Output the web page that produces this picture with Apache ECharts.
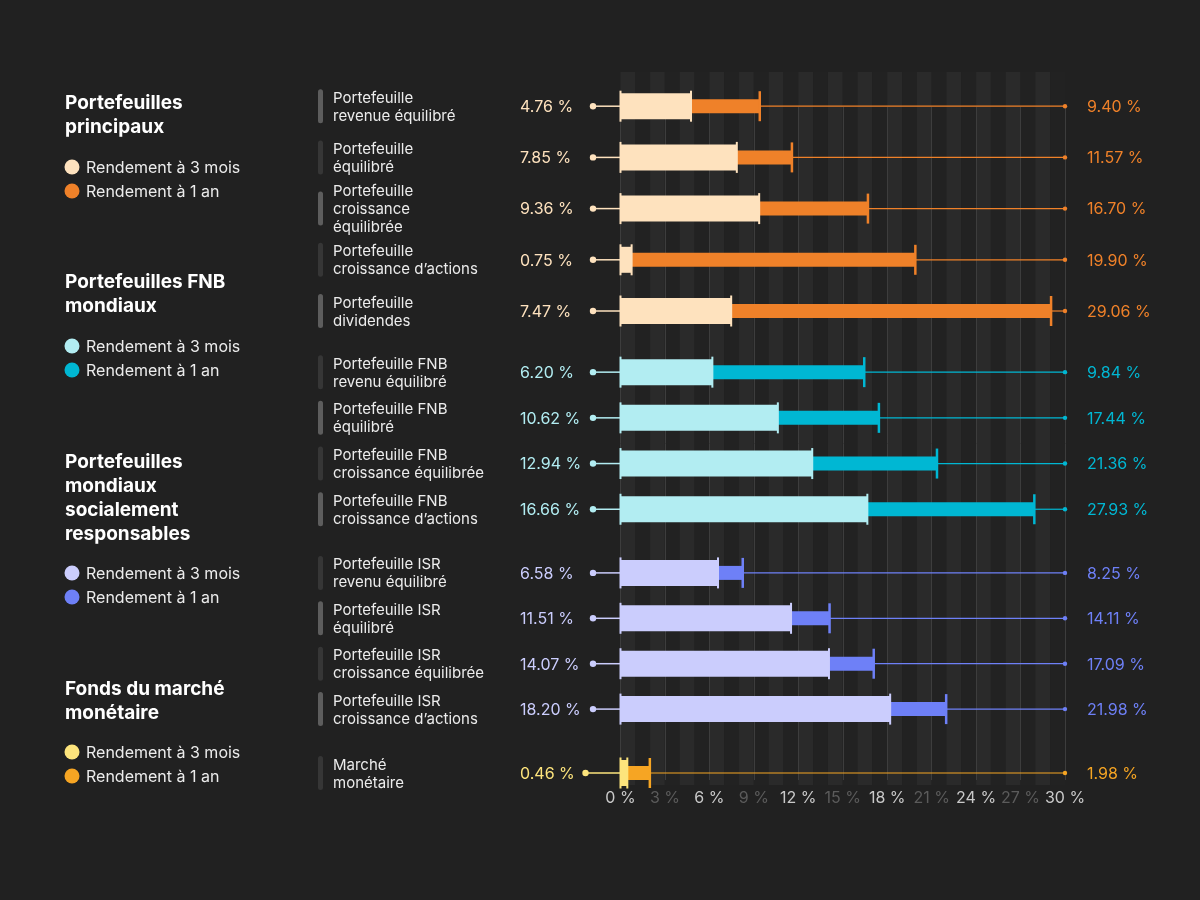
<!DOCTYPE html>
<html><head><meta charset="utf-8">
<script src="https://cdn.jsdelivr.net/npm/echarts@6/dist/echarts.min.js"></script>
<style>html,body{margin:0;padding:0;background:#212121}#c{width:1200px;height:900px}</style>
</head><body><div id="c"></div><script>
// ---------- data ----------
const rowLabels = [
  'Portefeuille\nrevenue équilibré',
  'Portefeuille\néquilibré',
  'Portefeuille\ncroissance\néquilibrée',
  'Portefeuille\ncroissance d’actions',
  'Portefeuille\ndividendes',
  'Portefeuille FNB\nrevenu équilibré',
  'Portefeuille FNB\néquilibré',
  'Portefeuille FNB\ncroissance équilibrée',
  'Portefeuille FNB\ncroissance d’actions',
  'Portefeuille ISR\nrevenu équilibré',
  'Portefeuille ISR\néquilibré',
  'Portefeuille ISR\ncroissance équilibrée',
  'Portefeuille ISR\ncroissance d’actions',
  'Marché\nmonétaire'
];
const rowGroup = [0,0,0,0,0,1,1,1,1,2,2,2,2,3];
const threeMonth = [4.76, 7.85, 9.36, 0.75, 7.47, 6.20, 10.62, 12.94, 16.66, 6.58, 11.51, 14.07, 18.20, 0.46];
const oneYear    = [9.40, 11.57, 16.70, 19.90, 29.06, 9.84, 17.44, 21.36, 27.93, 8.25, 14.11, 17.09, 21.98, 1.98];
// bar end as drawn in the picture (row 6 bar is drawn longer than its printed value)
const oneYearBar = [9.40, 11.57, 16.70, 19.90, 29.06, 16.45, 17.44, 21.36, 27.93, 8.25, 14.11, 17.09, 21.98, 1.98];
const groupTitles = ['Portefeuilles\nprincipaux', 'Portefeuilles FNB\nmondiaux', 'Portefeuilles\nmondiaux\nsocialement\nresponsables', 'Fonds du marché\nmonétaire'];
const legendLabels = ['Rendement à 3 mois', 'Rendement à 1 an'];
const color3m = ['#FEE2BE', '#B2EDF2', '#CBCDFD', '#FDE47C'];
const color1y = ['#EF8129', '#00B7D3', '#6E80F7', '#F6A523'];
const axisMin = 0, axisMax = 30, tickStep = 3;

// ---------- layout ----------
const FONT = 'Inter, "Noto Sans", sans-serif';
const gridLeft = 620.5, gridWidth = 444.5;
const groupGrids = [
  {top: 80.6, height: 256},
  {top: 349.3, height: 182.8},
  {top: 550.2, height: 181.6},
  {top: 750.3, height: 45.4}
];
const titleTop = [91, 270, 450, 677];
const legendTop = [167, 346, 573, 752];

const fmt = v => v.toFixed(2) + ' %';

const grids = [
  {left: gridLeft, width: gridWidth, top: 72, height: 713},
  {left: gridLeft, width: gridWidth, top: 107, height: 673}
].concat(groupGrids.map(g => ({left: gridLeft, width: gridWidth, top: g.top, height: g.height})));

const xAxes = [
  {gridIndex: 0, type: 'value', min: axisMin, max: axisMax, interval: 1, z: 0,
   axisLine: {show: false}, axisTick: {show: false}, axisLabel: {show: false},
   splitLine: {show: false},
   splitArea: {show: true, areaStyle: {color: ['#2a2a2a', '#222222']}}},
  {gridIndex: 1, type: 'value', min: axisMin, max: axisMax, interval: tickStep, z: 1,
   axisLine: {show: false}, axisTick: {show: false},
   splitLine: {show: true, lineStyle: {color: '#3d3d3d', width: 1}},
   axisLabel: {margin: 10, fontFamily: FONT, fontSize: 16,
     formatter: v => (v % 6 === 0 ? '{b|' : '{d|') + v + ' %}',
     rich: {b: {color: '#c9c9c9', fontSize: 16, fontFamily: FONT}, d: {color: '#5b5b5b', fontSize: 16, fontFamily: FONT}}}}
];
const yAxes = [
  {gridIndex: 0, type: 'value', show: false},
  {gridIndex: 1, type: 'value', show: false}
];
const series = [];

groupGrids.forEach((g, gi) => {
  const rows = [];
  rowGroup.forEach((grp, i) => { if (grp === gi) rows.push(i); });
  xAxes.push({gridIndex: gi + 2, type: 'value', min: axisMin, max: axisMax, show: false});
  yAxes.push({gridIndex: gi + 2, type: 'category', inverse: true, show: false,
    data: rows.map(i => rowLabels[i])});
  series.push({
    type: 'custom', xAxisIndex: gi + 2, yAxisIndex: gi + 2, clip: false,
    encode: {x: [0, 2], y: 1},
    data: rows.map((i, k) => [threeMonth[i], k, oneYearBar[i], i]),
    renderItem: (params, api) => {
      const v3 = api.value(0), cat = api.value(1), v1 = api.value(2), i = api.value(3);
      const p0 = api.coord([axisMin, cat]);
      const p3 = api.coord([v3, cat]);
      const p1 = api.coord([v1, cat]);
      const pm = api.coord([axisMax, cat]);
      const y = p0[1], x0 = p0[0];
      const c3 = color3m[gi], c1 = color1y[gi];
      const last = gi === 3;
      const dotX = x0 - (last ? 35 : 27.5);
      const valX = x0 - 100.5;
      return {type: 'group', children: [
        {type: 'rect', shape: {x: 318, y: y - 17, width: 5, height: 34, r: 2.5},
         style: {fill: i % 2 === 0 ? '#5d5d5d' : '#363636'}},
        {type: 'text', style: {text: rowLabels[i], x: 333, y: y + 1, fill: '#ececec',
         font: '15px ' + FONT, lineHeight: 18, verticalAlign: 'middle', textVerticalAlign: 'middle'}},
        {type: 'text', style: {text: fmt(threeMonth[i]), x: valX, y: y + 1, fill: c3,
         font: '16px ' + FONT, verticalAlign: 'middle', textVerticalAlign: 'middle'}},
        {type: 'line', shape: {x1: dotX, y1: y, x2: x0, y2: y}, style: {stroke: c3, lineWidth: 1.5}},
        {type: 'circle', shape: {cx: dotX, cy: y, r: 3.2}, style: {fill: c3}},
        {type: 'line', shape: {x1: p1[0], y1: y, x2: pm[0], y2: y}, style: {stroke: c1, lineWidth: 1.2}},
        {type: 'circle', shape: {cx: pm[0], cy: y, r: 2.2}, style: {fill: c1}},
        {type: 'rect', shape: {x: p3[0], y: y - 7, width: p1[0] - p3[0], height: 14}, style: {fill: c1}},
        {type: 'rect', shape: {x: p1[0] - 1.25, y: y - 15, width: 2.5, height: 30}, style: {fill: c1}},
        {type: 'rect', shape: {x: x0, y: y - 13, width: p3[0] - x0, height: 26}, style: {fill: c3}},
        {type: 'rect', shape: {x: x0 - 1, y: y - 15.5, width: 2, height: 31}, style: {fill: c3}},
        {type: 'rect', shape: {x: p3[0] - 1, y: y - 15.5, width: 2, height: 31}, style: {fill: c3}},
        {type: 'text', style: {text: fmt(oneYear[i]), x: pm[0] + 22, y: y + 1, fill: c1,
         font: '16px ' + FONT, verticalAlign: 'middle', textVerticalAlign: 'middle'}}
      ]};
    }
  });
});

// left panel (group titles + legends)
const graphic = [];
groupTitles.forEach((t, gi) => {
  graphic.push({type: 'text', left: 65, top: titleTop[gi],
    style: {text: t, fill: '#ffffff', font: 'bold 19px ' + FONT, lineHeight: 24}});
  legendLabels.forEach((lab, k) => {
    const cy = legendTop[gi] + k * 24;
    graphic.push({type: 'circle', shape: {cx: 72, cy: cy, r: 7.5},
      style: {fill: k === 0 ? color3m[gi] : color1y[gi]}});
    graphic.push({type: 'text', x: 86, y: cy + 1,
      style: {text: lab, fill: '#ececec', font: '16px ' + FONT, verticalAlign: 'middle', textVerticalAlign: 'middle'}});
  });
});

const chart = echarts.init(document.getElementById('c'), null, {renderer: 'canvas'});
chart.setOption({
  backgroundColor: '#212121',
  animation: false,
  grid: grids,
  xAxis: xAxes,
  yAxis: yAxes,
  series: series,
  graphic: graphic
});
</script></body></html>
